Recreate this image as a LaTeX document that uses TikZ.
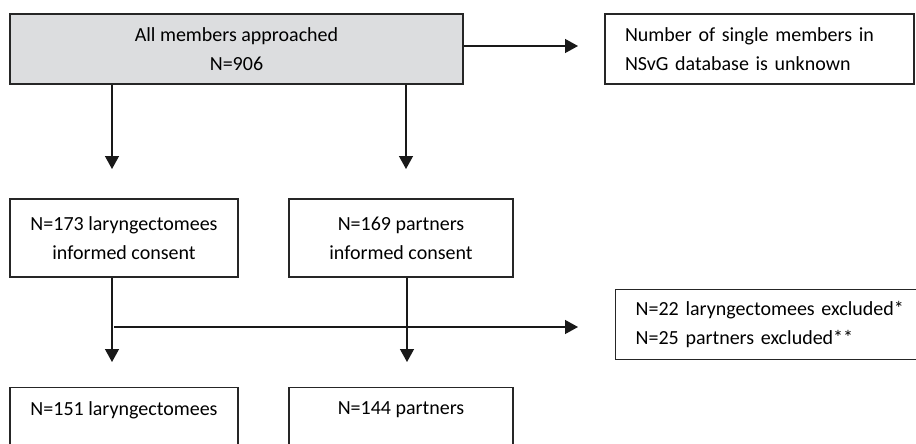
\documentclass[tikz,border=0pt]{standalone}
\usepackage{fontspec}
\setmainfont{Carlito}
\usetikzlibrary{arrows.meta}
\definecolor{headgray}{RGB}{220,221,223}

\begin{document}
\begin{tikzpicture}[x=1pt,y=-1pt,
		box/.style={draw=black!85, line width=1.4pt, inner sep=0pt, font=\fontsize{20}{29}\selectfont},
		leftbox/.style={box, align=left, inner xsep=20pt},
		arr/.style={line width=1.4pt, draw=black!90, -{Triangle[length=13pt,width=14pt]}}]
			%%%%% START %%%%%
			
			\useasboundingbox (0,0) rectangle (916,444);
			\clip (0,0) rectangle (916,444);
			
			\node[box, fill=headgray, minimum width=453, minimum height=70, align=center] (all) at (236.5,49) {All members approached\\N=906};
			\node[leftbox, text width=269pt, minimum height=70] (single) at (759.5,49) {Number of single members in\\NSvG database is unknown};
			
			\node[box, minimum width=228, minimum height=78, align=center] (consL) at (124,238) {N=173 laryngectomees\\informed consent};
			\node[box, minimum width=224, minimum height=78, align=center] (consR) at (401,238) {N=169 partners\\informed consent};
			
			\node[leftbox, text width=270pt, minimum height=70, anchor=north west] (excl) at (615,289) {N=22 laryngectomees excluded*\\N=25 partners excluded**};
			
			\node[box, minimum width=228, inner ysep=14pt, text depth=60pt, anchor=north] (endL) at (124,387) {N=151 laryngectomees};
			\node[box, minimum width=224, inner ysep=14pt, text depth=60pt, anchor=north] (endR) at (401,387) {N=144 partners};
			
			% arrow tips
			\coordinate (tipA) at (578,46);
			\coordinate (tipL) at (112,169);
			\coordinate (tipR) at (406,169);
			\coordinate (tipX) at (578,327);
			\coordinate (tipLL) at (112,362);
			\coordinate (tipRR) at (407,362);
			
			\draw[arr] (all.east |- tipA) -- (tipA);
			\draw[arr] (all.south -| tipL) -- (tipL);
			\draw[arr] (all.south -| tipR) -- (tipR);
			
			\draw[arr] (consL.south -| tipLL) -- (tipLL);
			\draw[arr] (consR.south -| tipRR) -- (tipRR);
			\draw[arr] (tipLL |- tipX) ++(2,0) -- (tipX);
			
			%%%%% END %%%%%
		\end{tikzpicture}
\end{document}
